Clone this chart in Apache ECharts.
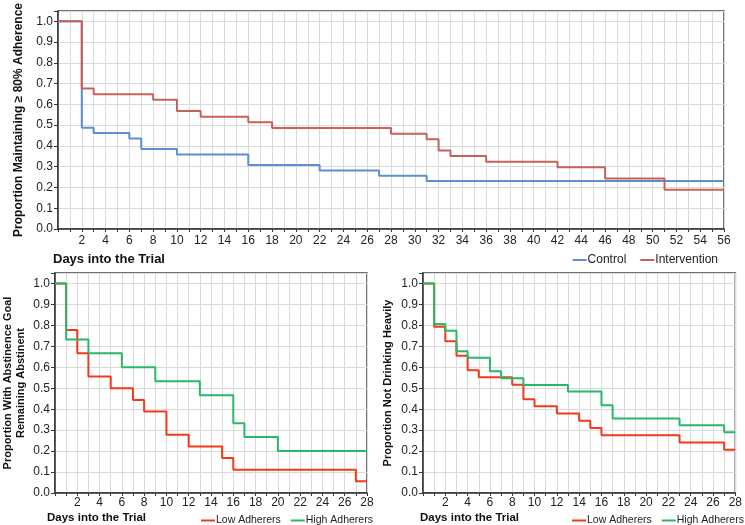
<!DOCTYPE html>
<html>
<head>
<meta charset="utf-8">
<script src="https://cdn.jsdelivr.net/npm/echarts@6/dist/echarts.min.js"></script>
<style>html,body{margin:0;padding:0;background:#fff}#c{width:745px;height:525px}</style>
</head>
<body>
<div id="c"></div>
<script>
// Top panel: proportion maintaining >= 80% adherence
var controlDays = [0, 2, 3, 6, 7, 10, 16, 22, 27, 31, 56];
var controlVals = [1.0, 0.487, 0.462, 0.436, 0.385, 0.359, 0.308, 0.282, 0.256, 0.231, 0.231];
var interventionDays = [0, 2, 3, 8, 10, 12, 16, 18, 28, 31, 32, 33, 36, 42, 46, 51, 56];
var interventionVals = [1.0, 0.676, 0.649, 0.622, 0.568, 0.541, 0.514, 0.486, 0.459, 0.432, 0.378, 0.351, 0.324, 0.297, 0.243, 0.189, 0.189];

// Bottom-left: abstinence goal remaining abstinent
var absLowDays = [0, 1, 2, 3, 5, 7, 8, 10, 12, 15, 16, 27, 28];
var absLowVals = [1.0, 0.778, 0.667, 0.556, 0.5, 0.444, 0.389, 0.278, 0.222, 0.167, 0.111, 0.056, 0.056];
var absHighDays = [0, 1, 3, 6, 9, 13, 16, 17, 20, 28];
var absHighVals = [1.0, 0.733, 0.667, 0.6, 0.533, 0.467, 0.333, 0.267, 0.2, 0.2];

// Bottom-right: not drinking heavily
var heavyLowDays = [0, 1, 2, 3, 4, 5, 8, 9, 10, 12, 14, 15, 16, 23, 27, 28];
var heavyLowVals = [1.0, 0.793, 0.724, 0.655, 0.586, 0.552, 0.517, 0.448, 0.414, 0.379, 0.345, 0.310, 0.276, 0.241, 0.207, 0.207];
var heavyHighDays = [0, 1, 2, 3, 4, 6, 7, 9, 13, 16, 17, 23, 27, 28];
var heavyHighVals = [1.0, 0.806, 0.774, 0.677, 0.645, 0.581, 0.548, 0.516, 0.484, 0.419, 0.355, 0.323, 0.290, 0.290];

var yTickLabels = ['0.0','0.1','0.2','0.3','0.4','0.5','0.6','0.7','0.8','0.9','1.0'];

function pairs(xs, ys) { return xs.map(function (x, i) { return [x, ys[i]]; }); }

var FONT = '"Liberation Sans", Arial, sans-serif';
var gridCol = '#dadada';

function xAx(gi, max) {
  return {
    type: 'value', gridIndex: gi, min: 0, max: max, interval: 1,
    axisLine: { show: true, lineStyle: { color: '#333', width: 1.5 } },
    axisTick: { show: true, length: 3, lineStyle: { color: '#333' } },
    axisLabel: {
      margin: gi === 0 ? 6 : 4, color: '#222', fontSize: 12, fontFamily: FONT,
      formatter: function (v) { return (v > 0 && v % 2 === 0) ? String(v) : ''; }
    },
    splitLine: { show: true, lineStyle: { color: gridCol, width: 1 } }
  };
}
function yAx(gi, name, gap, fs) {
  return {
    type: 'value', gridIndex: gi, min: 0, max: 1.05, interval: 0.1,
    name: name, nameLocation: 'middle', nameRotate: 90, nameGap: gap,
    nameTextStyle: { fontWeight: 'bold', fontSize: fs, color: '#111', fontFamily: FONT, lineHeight: fs + 2 },
    axisLine: { show: true, lineStyle: { color: '#333', width: 1.5 } },
    axisTick: { show: true, length: 4, lineStyle: { color: '#333' } },
    axisLabel: {
      margin: 5, color: '#222', fontSize: 12, fontFamily: FONT,
      formatter: function (v) { var i = Math.round(v * 10); return (v > 1.001) ? '' : yTickLabels[i]; }
    },
    splitLine: { show: true, lineStyle: { color: gridCol, width: 1 } }
  };
}
function line(name, gi, data, color) {
  return {
    name: name, type: 'line', xAxisIndex: gi, yAxisIndex: gi, step: 'end',
    showSymbol: false, symbol: 'none', data: data, animation: false,
    lineStyle: { color: color, width: 2 }, itemStyle: { color: color }
  };
}

var blue = '#5b8fcf', redTop = '#c9605b', redLow = '#f23a1a', green = '#27b86a';
var legText = { fontSize: 10.5, color: '#222', fontFamily: FONT, padding: [0, 0, 0, -4] };

var option = {
  animation: false,
  backgroundColor: '#fff',
  textStyle: { fontFamily: FONT },
  grid: [
    { left: 58, top: 1, width: 666, height: 228, show: true, borderColor: '#444', borderWidth: 1.5, backgroundColor: 'transparent' },
    { left: 52, top: 273, width: 315, height: 220, show: true, borderColor: '#444', borderWidth: 1.5, backgroundColor: 'transparent' },
    { left: 423, top: 273, width: 316, height: 220, show: true, borderColor: '#444', borderWidth: 1.5, backgroundColor: 'transparent' }
  ],
  xAxis: [xAx(0, 56), xAx(1, 28), xAx(2, 28)],
  yAxis: [
    yAx(0, 'Proportion Maintaining \u2265 80% Adherence', 30, 12),
    yAx(1, 'Proportion With Abstinence Goal\nRemaining Abstinent', 28, 11),
    yAx(2, 'Proportion Not Drinking Heavily', 29, 11)
  ],
  legend: [
    { data: ['Control', 'Intervention'], right: 22, top: 249, icon: 'rect', itemWidth: 14, itemHeight: 2, itemGap: 14,
      textStyle: { fontSize: 12, color: '#222', fontFamily: FONT, padding: [0, 0, 0, -4] } },
    { data: ['Low Adherers', 'High Adherers'], left: 196, top: 510, width: 220, icon: 'rect', itemWidth: 14, itemHeight: 2, itemGap: 10,
      textStyle: legText },
    { data: ['Low Adherers', 'High Adherers'], left: 567, top: 510, width: 220, icon: 'rect', itemWidth: 14, itemHeight: 2, itemGap: 10,
      textStyle: legText }
  ],
  graphic: [
    { type: 'text', left: 53, top: 253, style: { text: 'Days into the Trial', font: 'bold 13px ' + FONT, fill: '#111' } },
    { type: 'text', left: 47, top: 512, style: { text: 'Days into the Trial', font: 'bold 11.5px ' + FONT, fill: '#111' } },
    { type: 'text', left: 420, top: 512, style: { text: 'Days into the Trial', font: 'bold 11.5px ' + FONT, fill: '#111' } }
  ],
  series: [
    line('Control', 0, pairs(controlDays, controlVals), blue),
    line('Intervention', 0, pairs(interventionDays, interventionVals), redTop),
    line('Low Adherers', 1, pairs(absLowDays, absLowVals), redLow),
    line('High Adherers', 1, pairs(absHighDays, absHighVals), green),
    line('Low Adherers', 2, pairs(heavyLowDays, heavyLowVals), redLow),
    line('High Adherers', 2, pairs(heavyHighDays, heavyHighVals), green)
  ]
};
var chart = echarts.init(document.getElementById('c'), null, { renderer: 'canvas' });
chart.setOption(option);
</script>
</body>
</html>
